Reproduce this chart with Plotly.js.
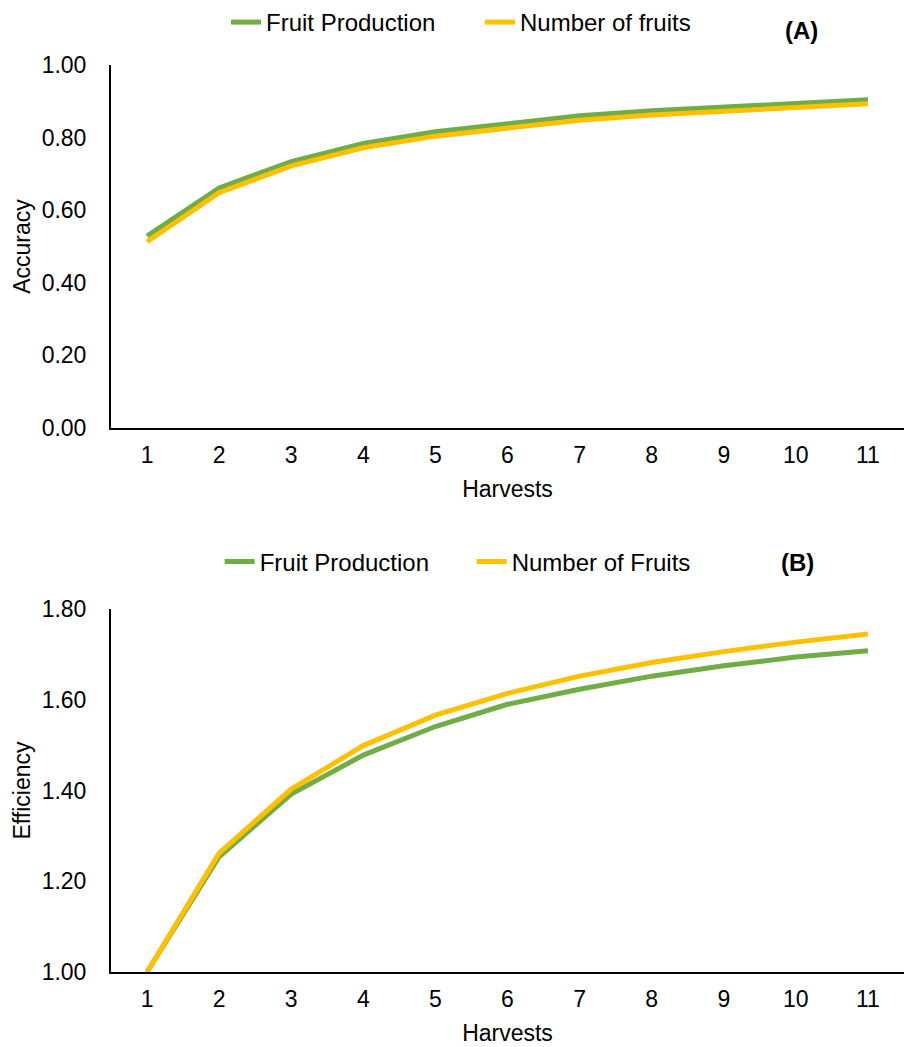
<!DOCTYPE html>
<html>
<head>
<meta charset="utf-8">
<script src="https://cdn.plot.ly/plotly-3.0.1.min.js"></script>
<style>html,body{margin:0;padding:0;background:#fff;}#chart{width:905px;height:1047px;}</style>
</head>
<body>
<div id="chart"></div>
<script>
const harvests = [1, 2, 3, 4, 5, 6, 7, 8, 9, 10, 11];
const accuracyProduction = [0.529, 0.661, 0.734, 0.784, 0.816, 0.839, 0.860, 0.874, 0.885, 0.894, 0.904];
const accuracyFruits = [0.513, 0.648, 0.722, 0.772, 0.804, 0.827, 0.848, 0.862, 0.873, 0.883, 0.893];
const efficiencyProduction = [1.000, 1.254, 1.392, 1.478, 1.541, 1.590, 1.623, 1.652, 1.675, 1.694, 1.708];
const efficiencyFruits = [1.000, 1.262, 1.403, 1.499, 1.566, 1.614, 1.652, 1.682, 1.706, 1.727, 1.745];

const GREEN = '#70AD47';
const YELLOW = '#FFC000';
const FONT = 'Liberation Sans, Arial, sans-serif';
const FS = 23;

const traces = [
  {x: harvests, y: accuracyProduction, name: 'Fruit Production', type: 'scatter', mode: 'lines',
   line: {color: GREEN, width: 5}, xaxis: 'x', yaxis: 'y', legend: 'legend'},
  {x: harvests, y: accuracyFruits, name: 'Number of fruits', type: 'scatter', mode: 'lines',
   line: {color: YELLOW, width: 5}, xaxis: 'x', yaxis: 'y', legend: 'legend'},
  {x: harvests, y: efficiencyProduction, name: 'Fruit Production', type: 'scatter', mode: 'lines',
   line: {color: GREEN, width: 5}, xaxis: 'x2', yaxis: 'y2', legend: 'legend2'},
  {x: harvests, y: efficiencyFruits, name: 'Number of Fruits', type: 'scatter', mode: 'lines',
   line: {color: YELLOW, width: 5}, xaxis: 'x2', yaxis: 'y2', legend: 'legend2'}
];

const xCommon = {
  range: [0.5, 11.5], tickmode: 'array', tickvals: harvests, ticktext: harvests.map(String),
  showgrid: false, zeroline: false, showline: true, linecolor: '#000', linewidth: 2,
  ticks: '', ticklabelstandoff: 5, tickfont: {family: FONT, size: FS, color: '#000'},
  title: {text: 'Harvests', font: {family: FONT, size: FS, color: '#000'}, standoff: 14},
  automargin: false, fixedrange: true
};
const yCommon = {
  showgrid: false, zeroline: false, showline: true, linecolor: '#000', linewidth: 2,
  ticks: '', ticklabelstandoff: 18, tickformat: '.2f', tickfont: {family: FONT, size: FS, color: '#000'},
  automargin: false, fixedrange: true
};

const layout = {
  width: 905, height: 1047,
  margin: {l: 111, r: 1, t: 0, b: 0},
  paper_bgcolor: '#fff', plot_bgcolor: '#fff',
  font: {family: FONT, color: '#000'},
  showlegend: true,
  xaxis: Object.assign({}, xCommon, {anchor: 'y', domain: [0, 1]}),
  yaxis: Object.assign({}, yCommon, {anchor: 'x', domain: [1 - 428/1047, 1 - 65/1047], range: [0, 1], dtick: 0.2,
    title: {text: 'Accuracy', font: {family: FONT, size: FS, color: '#000'}, standoff: 5}}),
  xaxis2: Object.assign({}, xCommon, {anchor: 'y2', domain: [0, 1]}),
  yaxis2: Object.assign({}, yCommon, {anchor: 'x2', domain: [1 - 972/1047, 1 - 609/1047], range: [1, 1.8], dtick: 0.2,
    title: {text: 'Efficiency', font: {family: FONT, size: FS, color: '#000'}, standoff: 5}}),
  legend: {orientation: 'h', x: 0.145, xanchor: 'left', y: 1, yanchor: 'top',
    font: {family: FONT, size: 24, color: '#000'}, bgcolor: 'rgba(0,0,0,0)', entrywidth: 209, entrywidthmode: 'pixels'},
  legend2: {orientation: 'h', x: 0.137, xanchor: 'left', y: 1 - 562/1047, yanchor: 'middle',
    font: {family: FONT, size: 24, color: '#000'}, bgcolor: 'rgba(0,0,0,0)', entrywidth: 207, entrywidthmode: 'pixels'},
  annotations: [
    {text: '<b>(A)</b>', xref: 'paper', yref: 'paper', x: (801 - 111) / 793, y: 1 - 31/1047,
     xanchor: 'center', yanchor: 'middle', showarrow: false, font: {family: FONT, size: 24, color: '#000'}},
    {text: '<b>(B)</b>', xref: 'paper', yref: 'paper', x: (797 - 111) / 793, y: 1 - 562/1047,
     xanchor: 'center', yanchor: 'middle', showarrow: false, font: {family: FONT, size: 24, color: '#000'}}
  ]
};

Plotly.newPlot('chart', traces, layout, {displayModeBar: false, staticPlot: true});
</script>
</body>
</html>
